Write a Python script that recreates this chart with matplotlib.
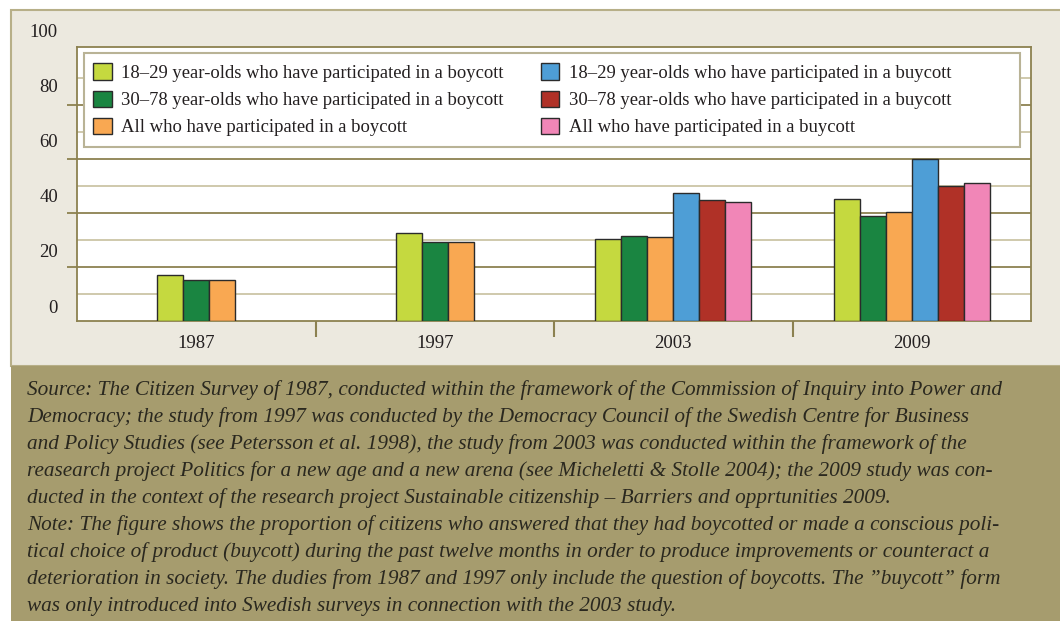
import matplotlib
matplotlib.use("Agg")
import matplotlib.pyplot as plt
import matplotlib.transforms as mtransforms
from matplotlib.patches import Rectangle, Patch
import numpy as np

# ---------------- data ----------------
years = ["1987", "1997", "2003", "2009"]
boycott_18_29 = [17.0, 32.5, 30.3, 45.1]
boycott_30_78 = [15.2, 29.1, 31.6, 38.9]
boycott_all = [15.2, 29.1, 31.0, 40.3]
buycott_18_29 = [None, None, 47.3, 59.9]
buycott_30_78 = [None, None, 44.7, 49.9]
buycott_all = [None, None, 44.0, 51.0]

series_labels = [
    "18\u201329 year-olds who have participated in a boycott",
    "30\u201378 year-olds who have participated in a boycott",
    "All who have participated in a boycott",
    "18\u201329 year-olds who have participated in a buycott",
    "30\u201378 year-olds who have participated in a buycott",
    "All who have participated in a buycott",
]
series_colors = ["#C5D93F", "#1A8541", "#F9A852", "#4E9ED6", "#B03127", "#F186B7"]
ytick_values = [0, 20, 40, 60, 80, 100]

caption_lines = [
    "Source: The Citizen Survey of 1987, conducted within the framework of the Commission of Inquiry into Power and",
    "Democracy; the study from 1997 was conducted by the Democracy Council of the Swedish Centre for Business",
    "and Policy Studies (see Petersson et al. 1998), the study from 2003 was conducted within the framework of the",
    "reasearch project Politics for a new age and a new arena (see Micheletti & Stolle 2004); the 2009 study was con-",
    "ducted in the context of the research project Sustainable citizenship \u2013 Barriers and opprtunities 2009.",
    "Note: The figure shows the proportion of citizens who answered that they had boycotted or made a conscious poli-",
    "tical choice of product (buycott) during the past twelve months in order to produce improvements or counteract a",
    "deterioration in society. The dudies from 1987 and 1997 only include the question of boycotts. The \u201dbuycott\u201d form",
    "was only introduced into Swedish surveys in connection with the 2003 study.",
]

# ---------------- style ----------------
W, H = 1060, 621
SERIF = ["Liberation Serif", "DejaVu Serif"]
OLIVE_DARK = "#8C8150"
OLIVE_LIGHT = "#CBC5A6"
PANEL_BG = "#ECE9DF"
CAPTION_BG = "#A69C6E"
TEXT = "#231F20"

plt.rcParams["font.family"] = SERIF

fig = plt.figure(figsize=(W / 100, H / 100), dpi=100)
fig.patch.set_facecolor("white")

def px(x0, y0, x1, y1):
    return (x0 / W, 1 - y1 / H, (x1 - x0) / W, (y1 - y0) / H)

# background panels
x, y, w, h = px(11, 10, 1062, 366)
fig.add_artist(Rectangle((x, y), w, h, transform=fig.transFigure,
                         facecolor=PANEL_BG, edgecolor="#B7AF88", lw=1.5, zorder=-10))
x, y, w, h = px(11, 366, 1062, 623)
fig.add_artist(Rectangle((x, y), w, h, transform=fig.transFigure,
                         facecolor=CAPTION_BG, edgecolor="none", zorder=-9))

ax = fig.add_axes(px(77, 47, 1031, 321))
ax.set_facecolor("white")

# ---------------- bars ----------------
all_series = [boycott_18_29, boycott_30_78, boycott_all,
              buycott_18_29, buycott_30_78, buycott_all]
bw = 0.109
xc = np.arange(len(years))
for ci in range(len(years)):
    present = [si for si, s in enumerate(all_series) if s[ci] is not None]
    n = len(present)
    for k, si in enumerate(present):
        off = (k - (n - 1) / 2) * bw
        ax.bar(xc[ci] + off, all_series[si][ci], width=bw, color=series_colors[si],
               edgecolor="#2B2B2B", linewidth=1.0, zorder=3)

ax.set_xlim(-0.5, len(years) - 0.5)
ax.set_ylim(0, 101.5)

# grid
ax.set_axisbelow(True)
ax.set_yticks([20, 40, 60, 80])
ax.set_yticks([10, 30, 50, 70, 90], minor=True)
ax.yaxis.grid(True, which="major", color=OLIVE_DARK, lw=1.3)
ax.yaxis.grid(True, which="minor", color=OLIVE_LIGHT, lw=1.3)
ax.tick_params(axis="y", which="major", length=7.2, width=1.3, color=OLIVE_DARK,
               labelleft=False, direction="out")
ax.tick_params(axis="y", which="minor", length=0, labelleft=False)

# y labels (offset above their lines, as in the original)
trans = mtransforms.blended_transform_factory(ax.transAxes, ax.transData)
for v in ytick_values:
    ax.text(-0.02, 4.8 + v * 1.022, str(v), transform=trans, ha="right", va="center",
            fontsize=13.5, color=TEXT, clip_on=False)

# x axis
ax.set_xticks(xc)
ax.set_xticklabels(years, fontsize=13.5, color=TEXT)
ax.set_xticks([0.5, 1.5, 2.5], minor=True)
ax.tick_params(axis="x", which="major", length=0, pad=10)
ax.tick_params(axis="x", which="minor", length=11.5, width=1.5, color=OLIVE_DARK, direction="out")

for sp in ax.spines.values():
    sp.set_color(OLIVE_DARK)
    sp.set_linewidth(1.3)

# legend frame
ax.add_patch(Rectangle((7 / 954, 1 - 100 / 274), 936 / 954, 94 / 274, transform=ax.transAxes,
                       facecolor="white", edgecolor="#B9B396", lw=1.5, zorder=4, clip_on=False))
handles = [Patch(facecolor=c, edgecolor="#2B2B2B", lw=1.0) for c in series_colors]
leg = ax.legend(handles, series_labels, ncol=2, loc="upper left",
                bbox_to_anchor=(16 / 954, 1 - 16.5 / 274), frameon=False,
                fontsize=13.4, handlelength=1.0, handleheight=1.0, handletextpad=0.5,
                labelspacing=0.45, columnspacing=2.0, borderpad=0, borderaxespad=0)
for t in leg.get_texts():
    t.set_color(TEXT)
leg.set_zorder(5)

# caption
for i, line in enumerate(caption_lines):
    fig.text(27 / W, 1 - (395 + 27 * i) / H, line, ha="left", va="baseline",
             fontsize=15.3, style="italic", color="#2A281F")

fig.savefig("out.png", dpi=100)
